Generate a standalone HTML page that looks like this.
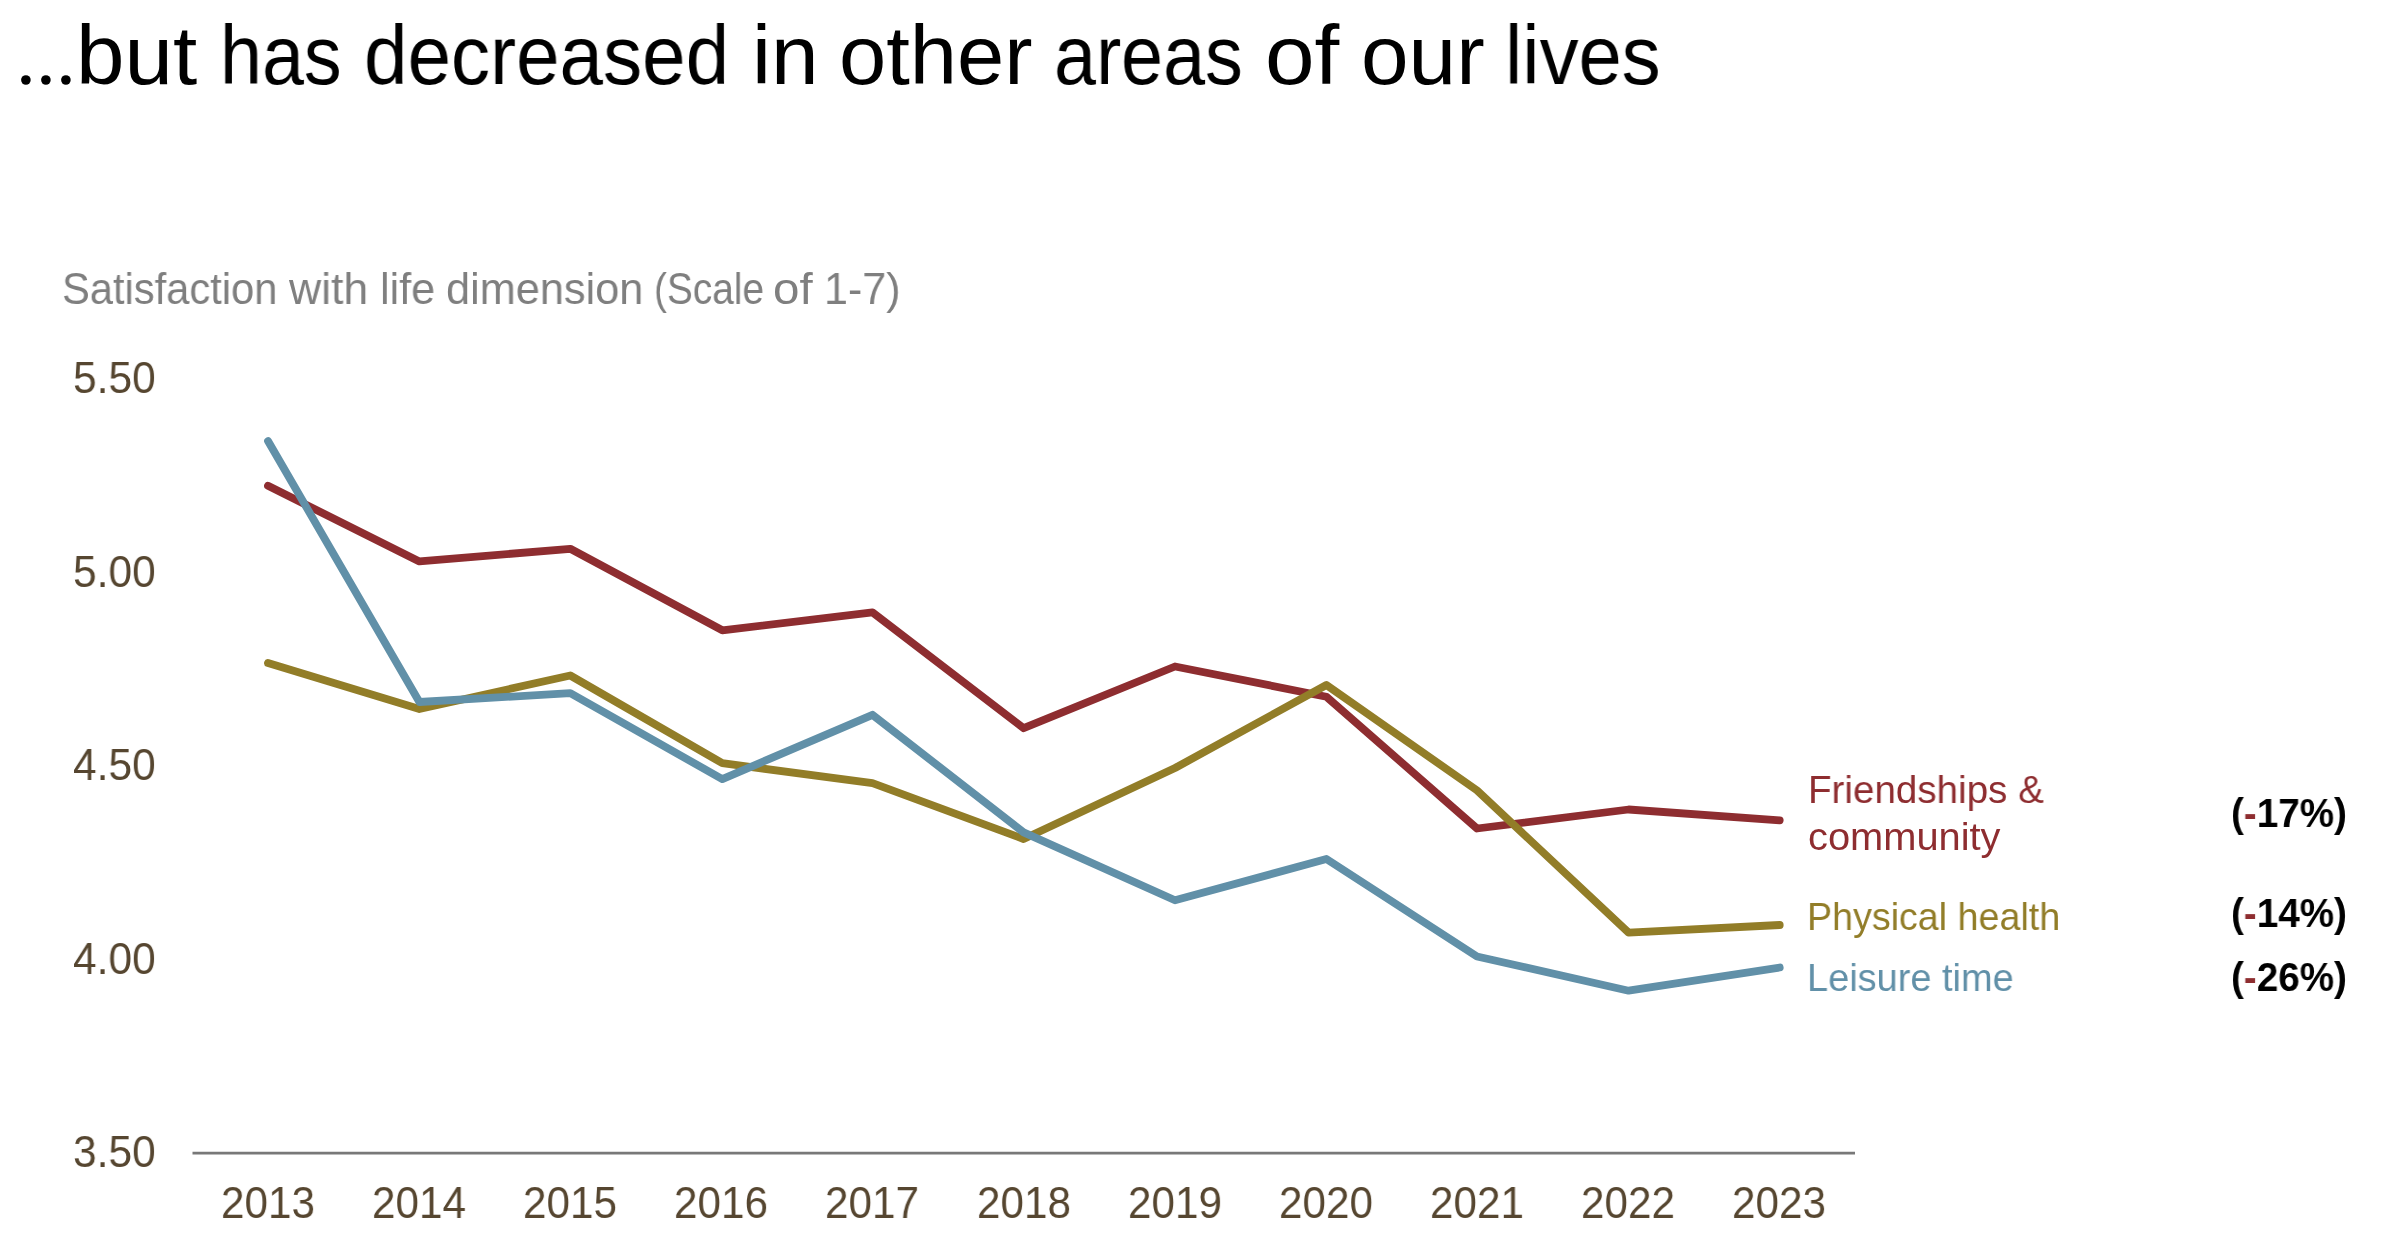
<!DOCTYPE html>
<html><head><meta charset="utf-8">
<style>
html,body{margin:0;padding:0;background:#fff;}
body{width:2392px;height:1260px;position:relative;overflow:hidden;font-family:"Liberation Sans",sans-serif;}
.t{position:absolute;white-space:nowrap;line-height:1;will-change:transform;}
.tw{top:13.8px;font-size:82.5px;color:#000;transform-origin:0 0;}
.sw{top:265.9px;font-size:45px;color:#7f7f7f;transform-origin:0 0;}
.yl{left:73px;font-size:44px;color:#564630;transform-origin:0 0;transform:scaleX(0.965);}
.xl{font-size:44px;color:#564630;width:160px;text-align:center;transform:scaleX(0.96);}
.lg{font-size:39px;transform-origin:0 0;}
.pc{font-size:40px;font-weight:bold;color:#000;left:2231px;transform-origin:0 0;transform:scaleX(0.965);}
.pc span{color:#8e2d30;}
svg{position:absolute;left:0;top:0;}
</style></head><body>
<div class="t tw" style="left:75.52px;transform:scaleX(1.0569)">but</div>
<div class="t tw" style="left:220.22px;transform:scaleX(0.9137)">has</div>
<div class="t tw" style="left:364.16px;transform:scaleX(0.9475)">decreased</div>
<div class="t tw" style="left:751.61px;transform:scaleX(1.037)">in</div>
<div class="t tw" style="left:839.41px;transform:scaleX(1.0293)">other</div>
<div class="t tw" style="left:1054.26px;transform:scaleX(0.915)">areas</div>
<div class="t tw" style="left:1265.16px;transform:scaleX(1.0803)">of</div>
<div class="t tw" style="left:1360.79px;transform:scaleX(1.0374)">our</div>
<div class="t tw" style="left:1505.29px;transform:scaleX(0.9427)">lives</div>
<div class="t sw" style="left:61.65px;transform:scaleX(0.9263)">Satisfaction</div>
<div class="t sw" style="left:289.2px;transform:scaleX(0.9896)">with</div>
<div class="t sw" style="left:380.42px;transform:scaleX(0.9585)">life</div>
<div class="t sw" style="left:446.38px;transform:scaleX(0.9625)">dimension</div>
<div class="t sw" style="left:653.61px;transform:scaleX(0.8626)">(Scale</div>
<div class="t sw" style="left:772.89px;transform:scaleX(1.0556)">of</div>
<div class="t sw" style="left:824.23px;transform:scaleX(0.9568)">1-7)</div>

<div class="t yl" style="top:356px">5.50</div>
<div class="t yl" style="top:550px">5.00</div>
<div class="t yl" style="top:743px">4.50</div>
<div class="t yl" style="top:937px">4.00</div>
<div class="t yl" style="top:1130px">3.50</div>

<svg width="2392" height="1260" viewBox="0 0 2392 1260">
<circle cx="25.9" cy="80" r="4.8" fill="#000"/><circle cx="45.9" cy="80" r="4.8" fill="#000"/><circle cx="65.9" cy="80" r="4.8" fill="#000"/>
<line x1="192.5" y1="1153.1" x2="1855" y2="1153.1" stroke="#787878" stroke-width="2.6"/>
<g fill="none" stroke-width="7.8" stroke-linecap="round" stroke-linejoin="round">
<polyline stroke="#8e2d30" points="268,485.8 419.4,561.4 570.3,548.8 722.3,630.3 872.5,612.4 1023.6,728.2 1175,666.5 1326.4,696.7 1477,828.5 1628.6,809.5 1779.7,820.3"/>
<polyline stroke="#927d28" points="268,663 419.4,709 570.3,675.5 722.3,763.2 872.5,783.2 1023.6,839.0 1175,768 1326.4,685 1477,790.4 1628.6,932.6 1779.7,925.0"/>
<polyline stroke="#6190a8" points="268,441 419.4,702 570.3,693.2 722.3,779.1 872.5,714.8 1023.6,832.4 1175,900.3 1326.4,859.0 1477,956.5 1628.6,990.7 1779.7,967.5"/>
</g>
</svg>

<div class="t xl" style="left:188px;top:1181px">2013</div>
<div class="t xl" style="left:339px;top:1181px">2014</div>
<div class="t xl" style="left:490px;top:1181px">2015</div>
<div class="t xl" style="left:641px;top:1181px">2016</div>
<div class="t xl" style="left:792px;top:1181px">2017</div>
<div class="t xl" style="left:944px;top:1181px">2018</div>
<div class="t xl" style="left:1095px;top:1181px">2019</div>
<div class="t xl" style="left:1246px;top:1181px">2020</div>
<div class="t xl" style="left:1397px;top:1181px">2021</div>
<div class="t xl" style="left:1548px;top:1181px">2022</div>
<div class="t xl" style="left:1699px;top:1181px">2023</div>

<div class="t lg" style="left:1807.5px;top:769.5px;color:#8e2d30;transform:scaleX(0.989)">Friendships &amp;</div>
<div class="t lg" style="left:1807.5px;top:816.5px;color:#8e2d30;transform:scaleX(1.021)">community</div>
<div class="t lg" style="left:1807px;top:896.8px;color:#927d28;transform:scaleX(0.965)">Physical health</div>
<div class="t lg" style="left:1807px;top:957.5px;color:#6190a8;transform:scaleX(0.973)">Leisure time</div>

<div class="t pc" style="top:793px">(<span>-</span>17%)</div>
<div class="t pc" style="top:893px">(<span>-</span>14%)</div>
<div class="t pc" style="top:957px">(<span>-</span>26%)</div>
</body></html>
